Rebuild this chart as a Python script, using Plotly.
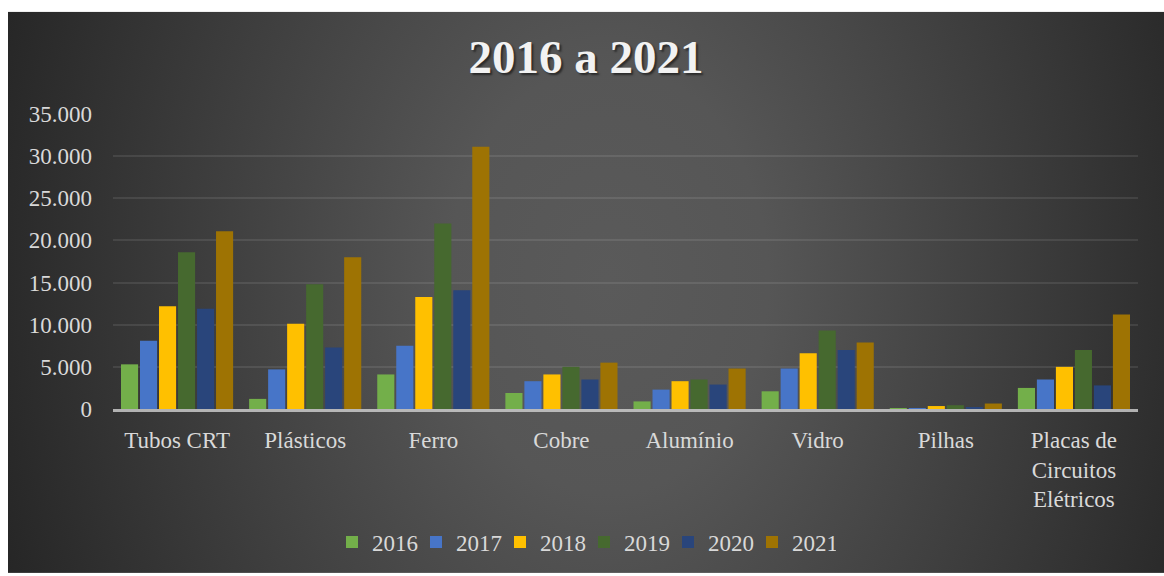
import base64
import plotly.graph_objects as go

# Reciclagem de resíduos eletrônicos por material, 2016 a 2021
categorias = ["Tubos CRT", "Plásticos", "Ferro", "Cobre", "Alumínio", "Vidro",
              "Pilhas", "Placas de<br>Circuitos<br>Elétricos"]
anos = ["2016", "2017", "2018", "2019", "2020", "2021"]

v2016 = [5300, 1200, 4100, 1900, 900, 2100, 100, 2500]
v2017 = [8100, 4700, 7500, 3300, 2300, 4800, 100, 3500]
v2018 = [12200, 10100, 13300, 4100, 3300, 6600, 350, 5000]
v2019 = [18600, 14800, 22000, 5000, 3500, 9300, 450, 7000]
v2020 = [11900, 7300, 14100, 3500, 2900, 7000, 200, 2800]
v2021 = [21100, 18000, 31100, 5500, 4800, 7900, 650, 11200]

series = [v2016, v2017, v2018, v2019, v2020, v2021]
cores = ["#73AF4A", "#4775C8", "#FFC000", "#46692F", "#29457B", "#9E7303"]

W, H = 1164, 576
L, R, T, B = 113, 26, 114, 165
pw, ph = W - L - R, H - T - B

# dark panel with a soft radial gradient (svg image placed behind the plot)
bx0, by0, bx1, by1 = 8, 11, 1164, 576
bw, bh = bx1 - bx0, by1 - by0
svg = f"""<svg xmlns='http://www.w3.org/2000/svg' width='{bw}' height='{bh}' viewBox='0 0 {bw} {bh}'>
<defs><radialGradient id='g' gradientUnits='userSpaceOnUse' cx='600' cy='270' r='640'
gradientTransform='translate(600 270) scale(1 1.35) translate(-600 -270)'>
<stop offset='0' stop-color='#5a5a5a'/><stop offset='0.25' stop-color='#565656'/>
<stop offset='1' stop-color='#262626'/></radialGradient></defs>
<rect width='{bw}' height='{bh}' fill='url(#g)'/></svg>"""
fundo = "data:image/svg+xml;base64," + base64.b64encode(svg.encode()).decode()

fig = go.Figure()
for ano, vals, cor in zip(anos, series, cores):
    fig.add_trace(go.Bar(name=ano, x=categorias, y=vals, marker_color=cor,
                         marker_line_width=0))

fonte = "Liberation Serif, Times New Roman, serif"
fig.update_layout(
    width=W, height=H,
    margin=dict(l=L, r=R, t=T, b=B, pad=0),
    paper_bgcolor="white",
    plot_bgcolor="rgba(0,0,0,0)",
    separators=",.",
    barmode="group",
    bargap=0.11,
    bargroupgap=0.1,
    font=dict(family=fonte, size=23, color="#D9D9D9"),
    title=dict(
        text="<b>2016 a 2021</b>",
        x=586 / W, xanchor="center", xref="container",
        y=1 - 57 / H, yanchor="middle", yref="container",
        font=dict(family=fonte, size=47, color="#F2F2F2",
                  shadow="2px 2px 2px rgba(0,0,0,0.5)"),
    ),
    legend=dict(
        orientation="h",
        x=(584 - L) / pw, xanchor="center",
        y=(H - 545 - B) / ph, yanchor="middle",
        font=dict(family=fonte, size=23, color="#D9D9D9"),
        bgcolor="rgba(0,0,0,0)",
        itemwidth=30,
        entrywidth=39,
        traceorder="normal",
    ),
    images=[dict(
        source=fundo, xref="paper", yref="paper",
        x=(bx0 - L) / pw, y=(H - by0 - B) / ph,
        sizex=bw / pw, sizey=bh / ph,
        xanchor="left", yanchor="top", sizing="stretch", layer="below",
    )],
    showlegend=True,
)
fig.update_xaxes(
    showgrid=False, showline=True, linecolor="rgba(210,210,210,0.8)", linewidth=3,
    ticks="", ticklabelstandoff=8,
    tickfont=dict(family=fonte, size=23, color="#D9D9D9"),
    tickangle=0,
)
fig.update_yaxes(
    range=[0, 35000], dtick=5000, tickformat=",d",
    showgrid=True, gridcolor="rgba(255,255,255,0.09)", gridwidth=2,
    zeroline=False, showline=False, ticks="", ticklabelstandoff=20,
    tickfont=dict(family=fonte, size=23, color="#D9D9D9"),
)

fig.write_html("out.html")
